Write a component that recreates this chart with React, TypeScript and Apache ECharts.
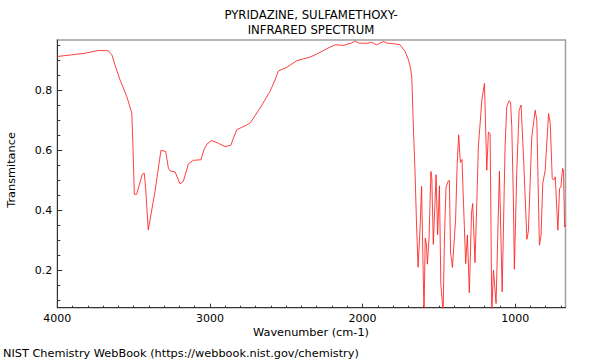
import React, { useEffect, useRef } from "react";
import * as echarts from "echarts";

const TITLE_LINES = ["PYRIDAZINE, SULFAMETHOXY-", "INFRARED SPECTRUM"];
const X_NAME = "Wavenumber (cm-1)";
const Y_NAME = "Transmitance";
const FOOTER = "NIST Chemistry WebBook (https://webbook.nist.gov/chemistry)";

const X_LABELS = [1000, 2000, 3000, 4000];
const X_MINOR = [700, 800, 900, 1100, 1200, 1300, 1400, 1500, 1600, 1700, 1800, 1900, 2100, 2200, 2300, 2400, 2500, 2600, 2700, 2800, 2900, 3100, 3200, 3300, 3400, 3500, 3600, 3700, 3800, 3900];
const Y_LABELS = [0.2, 0.4, 0.6, 0.8];
const Y_MINOR = [0.1, 0.15, 0.25, 0.3, 0.35, 0.45, 0.5, 0.55, 0.65, 0.7, 0.75, 0.85, 0.9, 0.95];

const WAVENUMBER = [
  4000, 3818, 3731, 3666, 3643, 3622, 3589, 3545, 3525, 3512, 3506, 3495, 3480, 3443, 3430, 3421, 3404,
  3360, 3321, 3290, 3272, 3261, 3228, 3196, 3174, 3141, 3109, 3058, 3040, 3020, 2988, 2945, 2902, 2863,
  2846, 2824, 2791, 2737, 2671, 2606, 2573, 2551, 2496, 2431, 2344, 2300, 2234, 2180, 2125, 2070, 2049,
  2027, 1972, 1939, 1907, 1863, 1841, 1787, 1754, 1721, 1699, 1684, 1677, 1667, 1656, 1646, 1636, 1623,
  1613, 1607, 1597, 1589, 1581, 1575, 1564, 1552, 1546, 1536, 1518, 1508, 1496, 1487, 1472, 1463, 1453,
  1440, 1431, 1423, 1418, 1411, 1401, 1390, 1380, 1370, 1359, 1348, 1340, 1324, 1313, 1300, 1286, 1278,
  1263, 1251, 1241, 1218, 1201, 1186, 1175, 1164, 1153, 1142, 1125, 1112, 1103, 1085, 1066, 1055, 1040,
  1030, 1022, 1012, 1005, 989, 974, 961, 946, 923, 913, 891, 869, 858, 841, 830, 819, 803, 781, 770, 757,
  748, 737, 720, 709, 700, 689, 683, 676, 670,
];
const TRANSMITTANCE = [
  0.912, 0.923, 0.932, 0.931, 0.918, 0.884, 0.834, 0.779, 0.746, 0.723, 0.64, 0.453, 0.453, 0.52, 0.523, 0.473, 0.334,
  0.462, 0.599, 0.596, 0.54, 0.531, 0.527, 0.488, 0.496, 0.554, 0.566, 0.568, 0.6, 0.62, 0.632, 0.623, 0.612, 0.616,
  0.64, 0.668, 0.676, 0.69, 0.74, 0.796, 0.834, 0.864, 0.876, 0.898, 0.91, 0.92, 0.938, 0.951, 0.949, 0.957, 0.964,
  0.957, 0.956, 0.959, 0.951, 0.962, 0.957, 0.954, 0.951, 0.929, 0.901, 0.87, 0.84, 0.68, 0.529, 0.35, 0.21, 0.34,
  0.479, 0.307, 0.06, 0.307, 0.284, 0.22, 0.307, 0.529, 0.507, 0.286, 0.518, 0.318, 0.481, 0.153, 0.06, 0.307, 0.476,
  0.496, 0.499, 0.255, 0.24, 0.209, 0.284, 0.37, 0.551, 0.651, 0.559, 0.569, 0.447, 0.222, 0.317, 0.125, 0.39, 0.422,
  0.225, 0.43, 0.611, 0.767, 0.822, 0.533, 0.66, 0.655, 0.06, 0.2, 0.089, 0.35, 0.53, 0.128, 0.611, 0.744, 0.765,
  0.76, 0.68, 0.45, 0.203, 0.533, 0.733, 0.75, 0.589, 0.303, 0.33, 0.644, 0.733, 0.7, 0.283, 0.317, 0.489, 0.533, 0.722, 0.689, 0.506,
  0.5, 0.511, 0.333, 0.472, 0.478, 0.539, 0.533, 0.344, 0.35,
];

const FONT = "DejaVu Sans";

export default function App() {
  const ref = useRef<HTMLDivElement>(null);
  useEffect(() => {
    if (!ref.current) return;
    const chart = echarts.init(ref.current, null, { renderer: "svg" });
    const data = WAVENUMBER.map((w, i) => [w, TRANSMITTANCE[i]]);
    const textStyle = { fontFamily: FONT, fontSize: 11.3, fill: "#000" };
    const titleStyle = { fontFamily: FONT, fontSize: 11.7, fill: "#000" };
    chart.setOption({
      animation: false,
      backgroundColor: "#fff",
      grid: {
        left: 57.3,
        right: 34.5,
        top: 40,
        bottom: 52.3,
        show: true,
        borderColor: "#a0a0a0",
        borderWidth: 1.5,
        backgroundColor: "transparent",
      },
      xAxis: [
        {
          type: "value",
          inverse: true,
          min: 670,
          max: 4000,
          position: "bottom",
          axisLine: { show: true, lineStyle: { color: "#333", width: 1 } },
          axisTick: { show: true, inside: true, length: 4, customValues: X_LABELS, lineStyle: { color: "#333" } },
          axisLabel: {
            show: true,
            customValues: X_LABELS,
            margin: 5,
            color: "#000",
            fontFamily: FONT,
            fontSize: 11,
            formatter: (v: number) => String(v),
          },
          splitLine: { show: false },
        },
        {
          type: "value",
          inverse: true,
          min: 670,
          max: 4000,
          position: "bottom",
          offset: 0,
          axisLine: { show: false },
          axisTick: { show: true, inside: true, length: 2, customValues: X_MINOR, lineStyle: { color: "#333" } },
          axisLabel: { show: false },
          splitLine: { show: false },
        },
      ],
      yAxis: [
        {
          type: "value",
          min: 0.075,
          max: 0.967,
          position: "left",
          axisLine: { show: true, lineStyle: { color: "#333", width: 1 } },
          axisTick: { show: true, inside: true, length: 5, customValues: Y_LABELS, lineStyle: { color: "#333" } },
          axisLabel: {
            show: true,
            customValues: Y_LABELS,
            margin: 5,
            color: "#000",
            fontFamily: FONT,
            fontSize: 11,
            formatter: (v: number) => v.toFixed(1),
          },
          splitLine: { show: false },
        },
        {
          type: "value",
          min: 0.075,
          max: 0.967,
          position: "left",
          offset: 0,
          axisLine: { show: false },
          axisTick: { show: true, inside: true, length: 3, customValues: Y_MINOR, lineStyle: { color: "#333" } },
          axisLabel: { show: false },
          splitLine: { show: false },
        },
      ],
      series: [
        {
          type: "line",
          xAxisIndex: 0,
          yAxisIndex: 0,
          data,
          showSymbol: false,
          symbol: "none",
          clip: true,
          lineStyle: { color: "rgba(255,30,30,0.85)", width: 1 },
        },
      ],
      graphic: [
        { type: "text", x: 311, y: 15, style: { ...titleStyle, text: TITLE_LINES[0], textAlign: "center", textVerticalAlign: "middle" } },
        { type: "text", x: 311, y: 30, style: { ...titleStyle, text: TITLE_LINES[1], textAlign: "center", textVerticalAlign: "middle" } },
        { type: "text", x: 311, y: 332, style: { ...textStyle, text: X_NAME, textAlign: "center", textVerticalAlign: "middle" } },
        { type: "text", x: 3, y: 353, style: { ...textStyle, text: FOOTER, textAlign: "left", textVerticalAlign: "middle" } },
        {
          type: "text",
          x: 11,
          y: 170,
          rotation: Math.PI / 2,
          style: { ...textStyle, text: Y_NAME, textAlign: "center", textVerticalAlign: "middle" },
        },
      ],
    });
    return () => chart.dispose();
  }, []);
  return (
    <div
      ref={ref}
      style={{ position: "fixed", left: 0, top: 0, width: 600, height: 360, background: "#fff" }}
    />
  );
}
